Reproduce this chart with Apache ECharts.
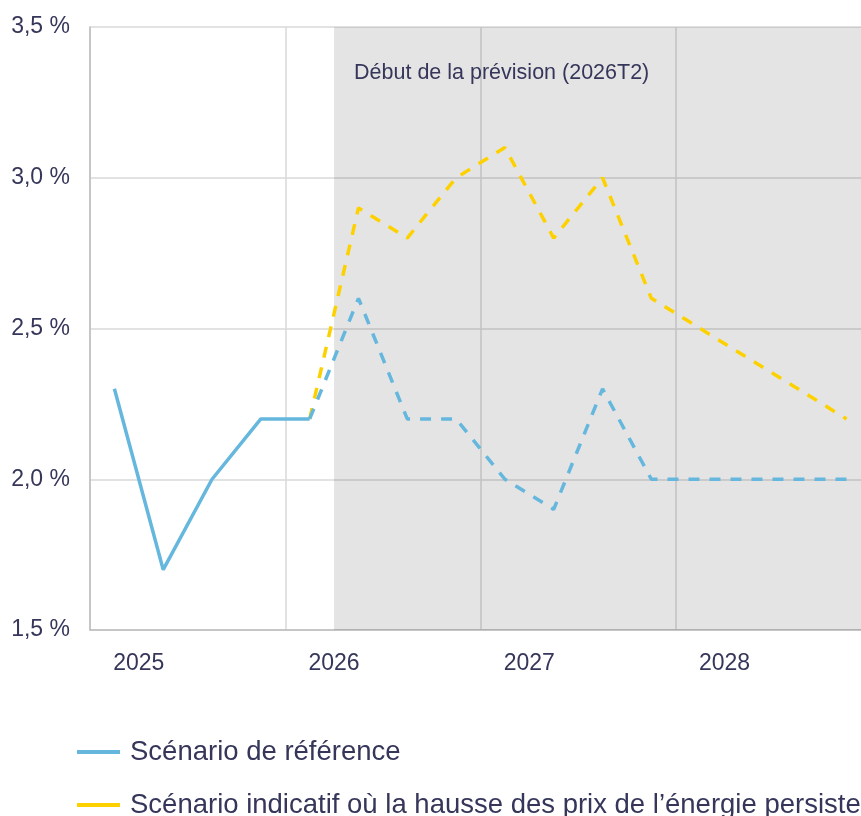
<!DOCTYPE html>
<html>
<head>
<meta charset="utf-8">
<script src="https://cdn.jsdelivr.net/npm/echarts@6/dist/echarts.min.js"></script>
<style>
html, body { margin: 0; padding: 0; background: #fff; }
#main { width: 861px; height: 816px; }
</style>
</head>
<body>
<div id="main"></div>
<script>
var quarters = ['2025T1', '2025T2', '2025T3', '2025T4', '2026T1', '2026T2', '2026T3', '2026T4',
    '2027T1', '2027T2', '2027T3', '2027T4', '2028T1', '2028T2', '2028T3', '2028T4'];
// year labels sit on the quarter boundaries (17 boundaries)
var yearLabels = ['', '2025', '', '', '', '2026', '', '', '', '2027', '', '', '', '2028', '', '', ''];
// reference scenario, observed (2025T1-2026T1)
var refHist = [2.3, 1.7, 2.0, 2.2, 2.2];
// reference scenario, projection (from 2026T1)
var refProj = [2.2, 2.6, 2.2, 2.2, 2.0, 1.9, 2.3, 2.0, 2.0, 2.0, 2.0, 2.0];
// energy price scenario (from 2026T1)
var energyProj = [2.2, 2.9, 2.8, 3.0, 3.1, 2.8, 3.0, 2.6, 2.5, 2.4, 2.3, 2.2];
var forecastStart = 5;

var nameRef = 'Scénario de référence';
var nameEnergy = 'Scénario indicatif où la hausse des prix de l’énergie persiste';

var blue = '#66b7dd';
var yellow = '#fdd100';
var textColor = '#35365a';
var font = "'Liberation Sans', Arial, sans-serif";

function pad(arr, start) {
    var out = [];
    for (var i = 0; i < quarters.length; i++) {
        var j = i - start;
        out.push(j >= 0 && j < arr.length ? arr[j] : '-');
    }
    return out;
}

function legendRow(name, color, top) {
    return {
        orient: 'horizontal',
        left: 77,
        top: top,
        padding: 0,
        itemWidth: 43,
        itemHeight: 4,
        textStyle: { color: textColor, fontSize: 27.5, fontFamily: font, padding: [0, 0, 0, 5] },
        data: [{ name: name, icon: 'rect', itemStyle: { color: color } }]
    };
}

var dom = document.getElementById('main');
var myChart = echarts.init(dom);
var option = {
    animation: false,
    textStyle: { fontFamily: font },
    grid: { left: 90, top: 27, width: 781, height: 603, outerBoundsMode: 'none', containLabel: false },
    legend: [
        legendRow(nameRef, blue, 738),
        legendRow(nameEnergy, yellow, 791)
    ],
    xAxis: [{
        type: 'category',
        data: quarters,
        boundaryGap: true,
        axisLine: { show: false },
        axisTick: { show: false },
        axisLabel: { show: false },
        splitLine: { show: false }
    }, {
        type: 'category',
        data: yearLabels,
        boundaryGap: false,
        position: 'bottom',
        axisLine: { show: true, lineStyle: { color: '#bdbdbd', width: 1.5 } },
        axisTick: { show: false },
        axisLabel: { interval: 0, color: textColor, fontSize: 23, margin: 22, fontFamily: font },
        splitLine: { show: true, interval: 3, lineStyle: { color: '#d9d9d9', width: 1.5 } }
    }],
    yAxis: {
        type: 'value',
        min: 1.5,
        max: 3.5,
        interval: 0.5,
        axisLine: { show: true, lineStyle: { color: '#bdbdbd', width: 1.5 } },
        axisTick: { show: false },
        axisLabel: {
            color: textColor, fontSize: 23, margin: 20, fontFamily: font, padding: [5, 0, 0, 0],
            formatter: function (v) { return v.toFixed(1).replace('.', ',') + ' %'; }
        },
        splitLine: { lineStyle: { color: '#d9d9d9', width: 1.5 } }
    },
    series: [{
        name: 'zone',
        type: 'line',
        xAxisIndex: 1,
        data: [],
        silent: true,
        markArea: {
            silent: true,
            itemStyle: { color: 'rgba(0,0,0,0.105)' },
            label: {
                show: true,
                position: [20, 35],
                color: textColor,
                fontSize: 21.5,
                fontFamily: font
            },
            data: [[{ name: 'Début de la prévision (2026T2)', xAxis: forecastStart }, { xAxis: yearLabels.length - 1 }]]
        }
    }, {
        name: nameEnergy,
        type: 'line',
        data: pad(energyProj, 4),
        symbol: 'none',
        lineStyle: { color: yellow, width: 3.5, type: [11, 10] },
        itemStyle: { color: yellow }
    }, {
        name: 'refProj',
        type: 'line',
        data: pad(refProj, 4),
        symbol: 'none',
        lineStyle: { color: blue, width: 3.5, type: [11, 10] },
        itemStyle: { color: blue }
    }, {
        name: nameRef,
        type: 'line',
        data: pad(refHist, 0),
        symbol: 'none',
        lineStyle: { color: blue, width: 3.5 },
        itemStyle: { color: blue }
    }]
};
myChart.setOption(option);
</script>
</body>
</html>
